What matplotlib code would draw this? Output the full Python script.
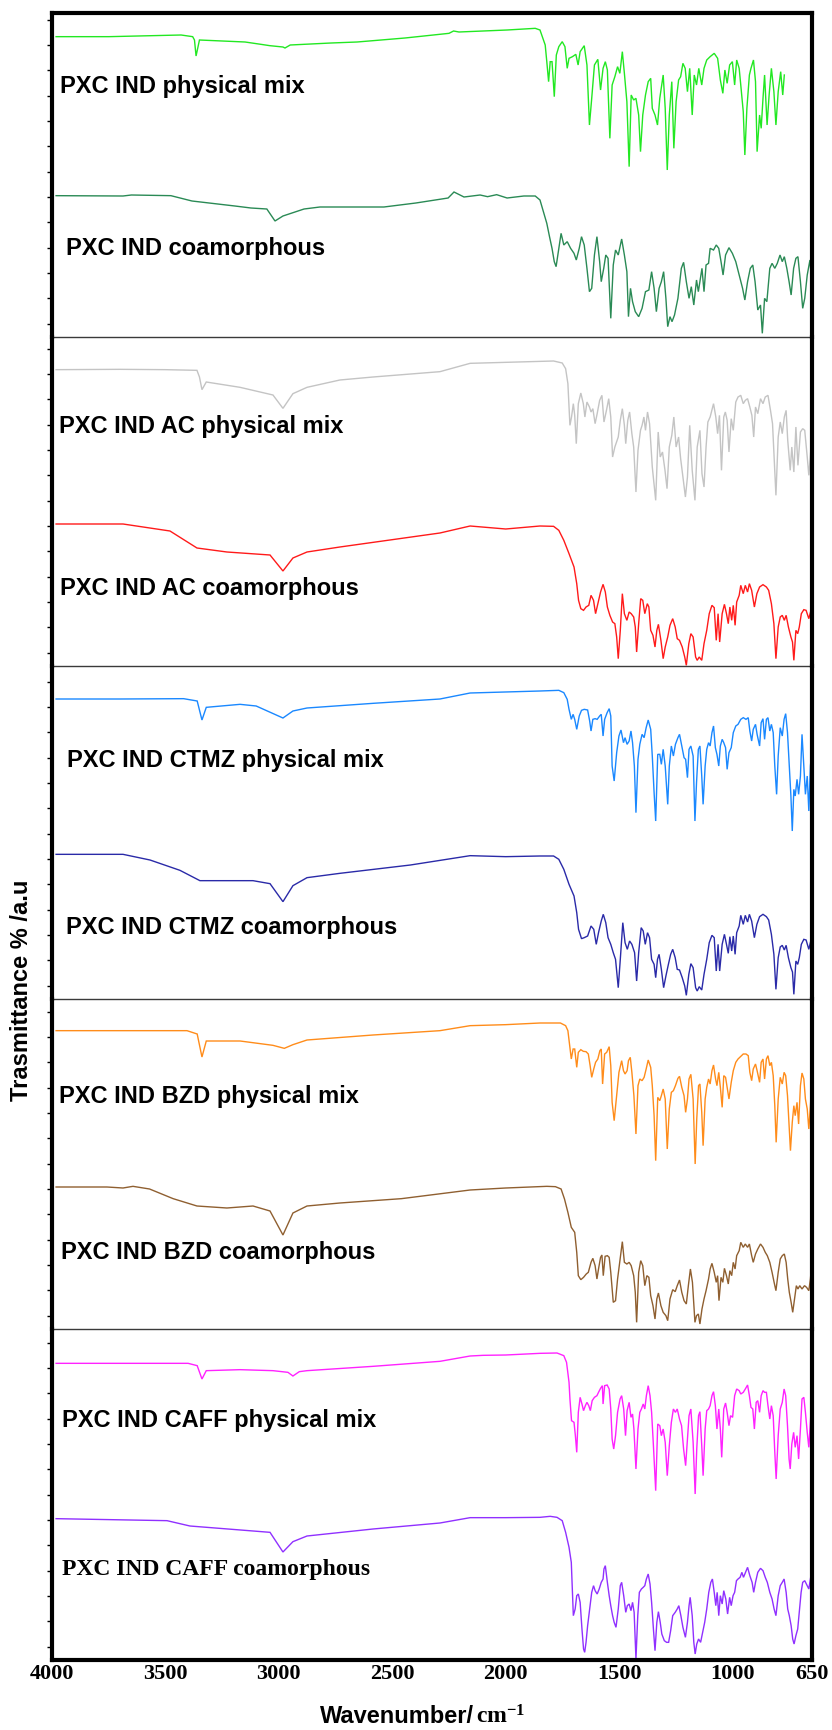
import matplotlib
matplotlib.use("Agg")
import matplotlib.pyplot as plt
import numpy as np

plt.rcParams['mathtext.fontset'] = 'custom'
plt.rcParams['mathtext.bf'] = 'Liberation Serif:bold'
plt.rcParams['mathtext.rm'] = 'Liberation Serif:bold'

# ---------------- data (wavenumber cm-1, transmittance a.u.) ----------------
x_ticks = [4000, 3500, 3000, 2500, 2000, 1500, 1000, 650]

labels = ["PXC IND physical mix", "PXC IND coamorphous",
          "PXC IND AC physical mix", "PXC IND AC coamorphous",
          "PXC IND CTMZ physical mix", "PXC IND CTMZ coamorphous",
          "PXC IND BZD physical mix", "PXC IND BZD coamorphous",
          "PXC IND CAFF physical mix", "PXC IND CAFF coamorphous"]

colors = ["#22e822", "#2a8a55", "#c4c4c4", "#ff1a1a", "#1a88ff",
          "#2a2aa8", "#ff8c1a", "#8f5f30", "#ff22ff", "#9030ff"]

pxc_ind_pm = [(3982,935),(3749,935),(3431,940),(3380,935),(3372,925),(3365,877),(3350,925),(3149,919),
    (3079,912),(3040,908),(2982,904),(2973,901),(2950,910),(2770,916),(2655,919),(2444,931),(2250,945),
    (2230,952),(2206,949),(1994,955),(1870,960),(1849,955),
    (1826,910),(1819,860),(1811,800),(1804,860),(1796,860),(1792,820),(1786,755),(1777,880),(1766,905),
    (1751,920),(1739,905),(1729,840),(1721,870),(1706,875),(1691,882),(1681,850),(1672,890),(1654,908),
    (1642,850),(1631,670),(1621,750),(1609,850),(1594,867),(1582,775),(1571,840),(1561,860),(1552,835),
    (1541,630),(1531,790),(1519,815),(1507,845),(1497,825),(1486,890),(1477,825),(1466,740),(1456,545),
    (1447,760),(1436,745),(1426,750),(1414,700),(1406,590),(1396,700),(1384,760),(1372,800),(1361,810),
    (1354,720),(1342,700),(1331,670),(1321,750),(1306,820),(1297,720),(1288,535),(1279,700),(1268,800),
    (1259,600),(1249,740),(1238,805),(1229,815),(1219,855),(1209,840),(1199,770),(1189,840),(1178,700),
    (1169,820),(1159,790),(1149,840),(1136,790),(1126,840),(1114,865),(1099,875),(1081,885),(1066,870),
    (1054,805),(1043,765),(1034,835),(1024,795),(1013,850),(1001,860),(991,790),(982,865),(971,840),
    (964,790),(953,710),(946,580),(937,720),(926,820),(919,840),(908,865),(899,800),(892,590),(881,700),
    (874,660),(866,750),(859,820),(848,670),(839,760),(829,840),(818,770),(809,670),(799,770),(788,830),
    (779,760),(772,820)]

pxc_ind_co = [(3982,458),(3687,457),(3650,460),(3476,458),(3383,442),(3194,427),(3123,421),(3053,418),
    (3017,382),(2982,397),(2889,418),(2819,424),(2537,424),(2396,436),(2254,451),(2228,469),(2184,454),
    (2113,460),(2080,455),(2040,461),(1994,451),(1920,457),(1870,457),(1849,445),
    (1834,410),(1819,375),(1807,335),(1796,300),(1786,260),(1778,245),(1766,300),(1756,345),(1744,310),
    (1729,320),(1714,300),(1699,285),(1689,265),(1676,300),(1666,335),(1654,310),(1642,240),(1631,170),
    (1621,180),(1609,280),(1598,335),(1586,260),(1579,200),(1568,240),(1559,280),(1549,270),(1537,90),
    (1526,250),(1516,295),(1504,280),(1489,328),(1477,280),(1466,230),(1459,95),(1450,180),(1441,140),
    (1429,110),(1414,95),(1399,120),(1384,170),(1369,175),(1357,230),(1346,180),(1336,110),(1324,180),
    (1314,200),(1304,230),(1294,150),(1286,65),(1276,95),(1267,80),(1256,100),(1241,150),(1226,240),
    (1216,258),(1204,200),(1192,150),(1182,185),(1171,130),(1159,205),(1151,170),(1144,200),(1135,240),
    (1126,170),(1117,250),(1106,255),(1099,300),(1084,295),(1072,310),(1061,300),(1051,260),(1042,220),
    (1031,280),(1016,302),(1001,285),(986,260),(971,220),(956,180),(946,145),(934,200),(922,240),
    (911,250),(901,200),(889,115),(877,130),(869,45),(859,150),(849,140),(836,240),(826,255),(814,240),
    (803,255),(791,280),(781,260),(772,275),(761,240),(751,200),(742,160),(731,240),(721,270),(712,275),
    (701,200),(691,120),(682,150),(671,220),(659,265),(650,190)]

ac_pm = [(3982,902),(3700,903),(3500,902),(3361,900),(3350,880),(3339,842),(3320,865),(3171,849),
    (3026,826),(2982,786),(2938,830),(2876,849),(2731,871),(2585,880),(2290,896),(2157,921),(2000,924),
    (1849,927),(1789,928),(1751,922),(1736,905),(1726,860),(1717,735),(1710,760),(1702,800),(1696,765),
    (1689,680),(1680,800),(1669,832),(1658,800),(1651,760),(1642,805),(1631,790),(1624,775),(1616,785),
    (1606,740),(1597,770),(1586,810),(1576,825),(1567,745),(1556,780),(1546,815),(1537,760),(1529,640),
    (1519,670),(1504,700),(1495,750),(1486,785),(1477,735),(1471,680),(1462,750),(1454,775),(1444,710),
    (1436,670),(1426,535),(1417,660),(1406,720),(1399,735),(1391,760),(1384,720),(1375,775),(1366,740),
    (1354,610),(1339,510),(1328,715),(1319,640),(1309,655),(1298,600),(1289,545),(1279,670),(1268,705),
    (1259,760),(1249,670),(1238,700),(1229,635),(1219,580),(1208,520),(1199,580),(1189,735),(1178,600),
    (1166,510),(1156,670),(1144,720),(1135,590),(1126,550),(1117,670),(1109,745),(1099,760),(1084,800),
    (1074,760),(1066,710),(1058,765),(1049,600),(1039,760),(1032,775),(1024,750),(1016,655),(1006,755),
    (997,720),(986,805),(976,820),(964,825),(953,800),(944,810),(934,815),(924,790),(915,765),(907,700),
    (899,790),(889,770),(877,815),(866,800),(856,820),(844,825),(833,780),(824,740),(817,640),(809,525),
    (799,700),(790,745),(781,710),(772,760),(764,780),(757,690),(746,600),(739,670),(730,595),(721,730),
    (712,615),(701,715),(691,725),(682,720),(671,640),(664,585),(653,680),(650,700)]

ac_co = [(3982,439),(3687,439),(3480,418),(3361,367),(3229,355),(3039,346),(2982,298),(2938,337),
    (2876,355),(2731,370),(2510,391),(2290,412),(2157,433),(2000,424),(1849,433),
    (1789,432),(1766,420),(1744,390),(1721,350),(1699,310),(1687,260),(1679,210),(1669,185),(1657,180),
    (1646,190),(1634,195),(1624,225),(1613,210),(1604,170),(1594,200),(1582,235),(1571,258),(1561,235),
    (1552,190),(1541,165),(1529,145),(1519,140),(1511,100),(1504,35),(1495,120),(1486,230),(1477,170),
    (1466,150),(1456,175),(1447,170),(1436,160),(1429,130),(1423,55),(1414,140),(1405,215),(1396,210),
    (1387,170),(1376,200),(1369,190),(1361,120),(1351,105),(1342,70),(1334,120),(1327,138),(1316,90),
    (1306,35),(1297,70),(1286,100),(1276,135),(1264,155),(1253,130),(1244,95),(1234,90),(1222,70),
    (1211,40),(1204,15),(1193,80),(1184,110),(1174,100),(1163,40),(1156,30),(1147,40),(1136,30),
    (1126,80),(1114,120),(1103,170),(1091,195),(1081,188),(1072,90),(1064,170),(1057,85),(1046,170),
    (1036,198),(1027,170),(1019,140),(1012,190),(1004,150),(997,195),(989,135),(982,205),(971,225),
    (964,255),(953,230),(944,255),(934,235),(926,260),(916,240),(904,190),(893,230),(881,250),(866,257),
    (851,250),(841,240),(829,200),(818,140),(809,35),(799,130),(790,160),(781,165),(772,150),(764,165),
    (754,130),(743,100),(736,85),(730,30),(721,120),(713,110),(706,130),(697,170),(686,182),(676,180),
    (664,155),(653,185),(650,192)]

ctmz_pm = [(3982,901),(3700,901),(3420,902),(3360,895),(3339,838),(3320,876),(3171,885),(3100,880),
    (2982,844),(2938,865),(2876,874),(2585,888),(2290,901),(2157,919),(2000,922),(1849,925),
    (1766,927),(1744,920),(1729,900),(1721,870),(1711,840),(1703,855),(1696,840),(1687,810),(1676,850),
    (1666,867),(1654,870),(1639,868),(1630,835),(1624,805),(1616,840),(1606,842),(1597,840),(1586,850),
    (1579,855),(1571,790),(1564,840),(1553,860),(1544,872),(1537,850),(1531,700),(1522,655),(1511,740),
    (1501,790),(1492,808),(1481,770),(1474,785),(1465,765),(1456,775),(1448,805),(1441,770),(1433,700),
    (1426,560),(1417,720),(1409,765),(1399,795),(1390,785),(1381,815),(1372,838),(1361,810),(1354,730),
    (1346,620),(1339,535),(1330,735),(1321,735),(1314,705),(1306,750),(1297,700),(1286,585),(1279,700),
    (1270,760),(1261,730),(1252,765),(1241,785),(1234,795),(1224,760),(1214,725),(1207,720),(1199,665),
    (1192,750),(1184,760),(1174,730),(1166,535),(1159,650),(1151,750),(1144,760),(1136,670),(1130,585),
    (1121,700),(1114,750),(1106,770),(1099,760),(1091,800),(1084,820),(1076,755),(1069,735),(1061,700),
    (1054,760),(1046,780),(1039,770),(1031,755),(1024,690),(1016,740),(1006,755),(997,800),(986,820),
    (976,825),(964,840),(953,845),(941,840),(931,845),(924,805),(916,775),(909,810),(899,825),(892,795),
    (881,760),(874,830),(866,842),(859,780),(851,840),(844,845),(836,805),(829,825),(821,800),(814,700),
    (806,615),(799,730),(790,815),(781,790),(773,840),(766,857),(758,800),(751,710),(743,610),(737,505),
    (730,630),(724,610),(716,660),(709,615),(701,670),(694,795),(686,700),(679,615),(671,670),(664,565),
    (657,700),(650,750)]

ctmz_co = [(3982,435),(3687,435),(3568,418),(3436,387),(3348,356),(3114,356),(3039,347),(2982,293),
    (2938,341),(2876,365),(2731,378),(2420,403),(2157,431),(2000,428),(1849,430),
    (1789,430),(1766,420),(1744,390),(1721,345),(1699,310),(1687,260),(1679,210),(1666,182),(1654,185),
    (1639,190),(1624,220),(1612,210),(1601,165),(1591,200),(1579,235),(1570,255),(1559,230),(1549,185),
    (1537,165),(1526,140),(1516,120),(1504,35),(1495,120),(1484,230),(1474,170),(1464,150),(1454,175),
    (1444,165),(1432,140),(1423,55),(1414,140),(1403,215),(1394,205),(1385,165),(1375,200),(1366,185),
    (1357,120),(1346,105),(1339,65),(1331,120),(1324,135),(1314,90),(1304,35),(1294,70),(1283,105),
    (1273,135),(1264,150),(1253,125),(1244,90),(1234,88),(1222,65),(1211,40),(1204,12),(1193,75),
    (1184,107),(1174,95),(1163,35),(1156,25),(1147,38),(1136,28),(1126,75),(1114,120),(1103,170),
    (1091,192),(1081,185),(1072,85),(1064,165),(1057,85),(1046,165),(1036,195),(1027,165),(1019,138),
    (1012,188),(1004,145),(997,190),(989,135),(982,200),(971,220),(964,252),(953,225),(944,252),
    (934,232),(926,255),(916,235),(904,185),(893,225),(881,248),(866,255),(851,248),(841,238),(829,195),
    (818,135),(809,30),(799,125),(790,157),(781,162),(772,148),(764,162),(754,125),(743,95),(736,82),
    (730,15),(721,115),(713,105),(706,125),(697,165),(686,180),(676,178),(664,150),(653,182),(650,190)]

bzd_pm = [(3982,905),(3405,905),(3360,895),(3339,826),(3320,874),(3171,874),(3026,861),(2976,852),
    (2938,863),(2876,877),(2585,892),(2290,905),(2157,920),(2000,923),(1849,928),
    (1759,928),(1736,920),(1726,905),(1718,860),(1711,820),(1703,850),(1696,850),(1687,795),(1680,840),
    (1669,848),(1658,843),(1646,842),(1636,835),(1628,800),(1621,765),(1612,790),(1604,810),(1594,820),
    (1585,845),(1579,850),(1573,745),(1564,835),(1555,840),(1544,857),(1537,800),(1531,690),(1522,635),
    (1511,710),(1501,780),(1489,815),(1481,785),(1474,775),(1465,785),(1459,815),(1451,825),(1444,780),
    (1435,710),(1426,595),(1417,740),(1409,760),(1399,755),(1390,765),(1381,790),(1372,817),(1361,795),
    (1354,740),(1346,650),(1339,515),(1330,705),(1321,695),(1314,710),(1306,730),(1297,700),(1288,550),
    (1279,670),(1270,720),(1261,725),(1252,740),(1241,762),(1234,768),(1224,735),(1214,710),(1207,660),
    (1199,700),(1192,760),(1184,774),(1174,700),(1165,505),(1158,640),(1150,740),(1144,745),(1136,660),
    (1130,560),(1121,700),(1114,735),(1106,760),(1099,745),(1091,785),(1084,802),(1075,760),(1069,740),
    (1061,780),(1054,735),(1046,675),(1039,770),(1031,765),(1024,735),(1016,700),(1006,750),(997,785),
    (986,810),(976,820),(964,828),(953,835),(941,835),(931,830),(924,780),(916,755),(909,790),(899,805),
    (892,785),(881,750),(874,810),(866,820),(859,760),(851,820),(844,830),(836,800),(829,810),(821,770),
    (814,680),(808,570),(799,700),(790,765),(781,745),(773,780),(766,770),(758,710),(751,620),(745,545),
    (737,630),(730,680),(724,650),(716,690),(709,625),(701,740),(694,778),(686,760),(679,700),(671,670),
    (664,610),(657,680),(650,750)]

bzd_co = [(3982,436),(3758,436),(3687,433),(3643,438),(3570,430),(3466,401),(3361,379),(3229,373),
    (3114,379),(3039,364),(2982,292),(2938,358),(2876,379),(2731,388),(2460,401),(2157,427),(2000,433),
    (1849,437),(1819,438),(1781,437),(1756,430),(1741,400),(1726,360),(1711,315),(1696,300),(1687,240),
    (1680,170),(1669,158),(1657,165),(1645,175),(1636,180),(1624,210),(1616,222),(1606,200),(1598,160),
    (1591,190),(1582,225),(1576,232),(1570,170),(1562,228),(1552,230),(1544,225),(1537,180),(1526,90),
    (1516,95),(1507,160),(1496,220),(1486,272),(1477,210),(1466,205),(1456,210),(1447,200),(1436,170),
    (1429,120),(1423,30),(1414,180),(1405,215),(1396,200),(1387,140),(1378,170),(1369,165),(1361,110),
    (1351,80),(1342,40),(1334,100),(1327,118),(1316,80),(1306,60),(1294,50),(1286,35),(1276,100),
    (1264,128),(1253,122),(1244,140),(1234,157),(1224,120),(1214,95),(1204,85),(1195,140),(1186,190),
    (1177,150),(1166,30),(1159,50),(1151,55),(1144,25),(1135,70),(1126,100),(1117,125),(1106,160),
    (1099,190),(1091,207),(1081,180),(1072,150),(1066,170),(1060,95),(1051,165),(1043,150),(1036,192),
    (1027,170),(1019,145),(1012,185),(1004,170),(997,210),(989,190),(982,230),(971,245),(964,270),
    (953,255),(944,265),(934,255),(926,265),(916,230),(909,210),(899,235),(889,250),(877,265),(866,255),
    (856,240),(847,230),(836,210),(826,180),(817,150),(809,125),(799,180),(790,220),(781,230),(772,235),
    (764,210),(757,160),(750,120),(742,90),(735,60),(727,100),(719,140),(712,130),(704,140),(694,130),
    (683,140),(674,135),(664,125),(657,160),(650,215)]

caff_pm = [(3982,897),(3400,897),(3360,890),(3339,850),(3320,875),(3171,878),(3026,875),(2960,870),
    (2938,859),(2910,872),(2876,875),(2585,888),(2290,903),(2157,919),(2100,921),(2000,922),(1849,927),
    (1774,928),(1744,920),(1732,900),(1721,840),(1717,790),(1710,725),(1699,720),(1693,680),(1687,630),
    (1680,750),(1672,795),(1664,775),(1657,755),(1649,770),(1642,780),(1634,770),(1627,755),(1619,785),
    (1609,795),(1598,800),(1591,810),(1582,822),(1574,830),(1571,775),(1564,830),(1553,832),(1544,820),
    (1537,760),(1531,670),(1524,640),(1516,680),(1507,750),(1496,790),(1489,800),(1480,760),(1472,680),
    (1465,755),(1456,780),(1448,735),(1441,745),(1435,700),(1426,580),(1417,700),(1409,750),(1402,760),
    (1394,775),(1387,760),(1380,800),(1372,830),(1364,800),(1357,750),(1349,650),(1339,515),(1330,715),
    (1321,710),(1314,680),(1306,700),(1297,660),(1288,560),(1279,650),(1270,720),(1261,760),(1252,750),
    (1244,760),(1234,730),(1225,710),(1216,640),(1207,590),(1199,670),(1192,740),(1184,760),(1174,660),
    (1165,505),(1158,640),(1150,740),(1144,752),(1136,650),(1130,560),(1121,700),(1114,755),(1106,760),
    (1099,770),(1091,800),(1084,812),(1076,770),(1069,700),(1061,760),(1054,700),(1048,615),(1039,760),
    (1031,778),(1024,750),(1016,710),(1009,740),(1000,735),(991,800),(982,820),(971,815),(964,805),
    (953,810),(944,820),(934,832),(926,800),(919,765),(911,760),(904,700),(896,780),(889,785),(881,750),
    (874,800),(866,815),(859,810),(851,810),(844,770),(836,730),(829,770),(821,740),(814,630),(808,550),
    (799,680),(790,760),(781,780),(773,820),(766,800),(758,710),(751,610),(746,580),(739,655),(731,690),
    (724,645),(716,680),(709,610),(701,700),(694,790),(686,795),(679,750),(671,690),(664,645),(657,720),
    (650,800)]

caff_co = [(3982,431),(3493,425),(3392,409),(3114,394),(3039,390),(2982,331),(2938,362),(2876,379),
    (2585,400),(2290,418),(2157,434),(2000,434),(1849,435),
    (1804,438),(1774,435),(1751,425),(1736,390),(1721,345),(1711,300),(1706,210),(1702,140),(1694,160),
    (1687,200),(1680,205),(1672,180),(1664,100),(1657,40),(1652,30),(1646,60),(1639,110),(1628,170),
    (1621,210),(1613,230),(1606,215),(1597,205),(1588,220),(1579,240),(1571,250),(1567,280),(1561,290),
    (1552,240),(1544,200),(1537,170),(1529,140),(1522,120),(1514,105),(1504,160),(1495,230),(1489,240),
    (1480,200),(1471,150),(1464,170),(1456,175),(1448,155),(1441,180),(1434,150),(1426,10),(1418,140),
    (1411,210),(1402,220),(1394,225),(1387,230),(1380,250),(1372,265),(1364,235),(1357,180),(1349,100),
    (1342,35),(1334,120),(1327,152),(1319,120),(1312,85),(1301,65),(1291,60),(1282,60),(1273,95),
    (1264,140),(1253,150),(1244,160),(1237,170),(1228,140),(1219,105),(1208,75),(1199,120),(1192,170),
    (1187,195),(1178,140),(1171,60),(1165,25),(1158,55),(1150,70),(1141,60),(1132,90),(1123,120),
    (1114,160),(1105,210),(1096,240),(1089,250),(1081,210),(1074,170),(1068,210),(1061,140),(1054,200),
    (1046,175),(1039,215),(1030,190),(1022,145),(1013,195),(1006,170),(998,200),(991,210),(983,245),
    (976,250),(967,255),(959,270),(952,255),(943,270),(934,285),(924,260),(914,240),(907,210),(899,240),
    (889,270),(877,282),(866,275),(856,255),(847,240),(836,210),(826,190),(817,160),(809,140),(799,200),
    (790,230),(781,240),(773,250),(764,210),(757,160),(750,140),(742,110),(735,70),(729,55),(721,80),
    (713,100),(706,150),(698,210),(691,240),(682,245),(671,230),(664,220),(657,250),(650,280)]

spectra = [pxc_ind_pm, pxc_ind_co, ac_pm, ac_co, ctmz_pm, ctmz_co, bzd_pm, bzd_co, caff_pm, caff_co]

# ---------------- layout ----------------
W, H = 832, 1730
fig = plt.figure(figsize=(W / 100, H / 100), dpi=100)
panel_px = [324, 329, 333, 330, 331]
panel_ylim = [(34, 1006), (13, 1000), (1, 1000), (10, 1000), (7, 1000)]
gs = fig.add_gridspec(5, 1, left=52 / W, right=812 / W, bottom=1 - 1660 / H, top=1 - 13 / H,
                      hspace=0, height_ratios=panel_px)

axes = []
for p in range(5):
    ax = fig.add_subplot(gs[p, 0])
    ax.patch.set_visible(False)
    axes.append(ax)
    for k in (2 * p, 2 * p + 1):
        arr = np.array(spectra[k], dtype=float)
        ax.plot(arr[:, 0], arr[:, 1], color=colors[k], lw=1.0, solid_joinstyle='miter')
    ax.set_xlim(4000, 650)
    lo, hi = panel_ylim[p]
    ax.set_ylim(lo, hi)
    ax.set_yticks(np.arange(lo + 40, hi, 76))
    ax.set_yticklabels([])
    ax.tick_params(axis='y', direction='out', length=3.5, width=1.0, left=True, right=False)
    for s in ('left', 'right'):
        ax.spines[s].set_linewidth(3.0)
        ax.spines[s].set_color('black')
        ax.spines[s].set_zorder(5)
    ax.spines['top'].set_visible(p == 0)
    ax.spines['top'].set_linewidth(3.0)
    if p < 4:
        ax.spines['bottom'].set_linewidth(1.0)
        ax.spines['bottom'].set_color('#3a3a3a')
        ax.spines['bottom'].set_zorder(4)
        ax.set_xticks([])
    else:
        ax.spines['bottom'].set_linewidth(3.0)
        ax.set_xticks(x_ticks)
        ax.set_xticklabels([str(t) for t in x_ticks], fontfamily='Liberation Serif',
                           fontweight='bold', fontsize=16)
        ax.tick_params(axis='x', length=0, pad=3)

# sample labels
lab_x = [60, 66, 59, 60, 67, 66, 59, 61, 62, 62]
lab_y = [86, 248, 427, 589, 761, 927, 1097, 1253, 1420, 1569]
for k, txt in enumerate(labels):
    fam = 'Liberation Serif' if k == 9 else 'Liberation Sans'
    fig.text(lab_x[k] / W, 1 - lab_y[k] / H, txt, ha='left', va='center',
             fontfamily=fam, fontweight='bold', fontsize=17)

# axis labels
fig.text(22 / W, 1 - 990 / H, 'Trasmittance % /a.u', rotation=90, ha='center', va='center',
         fontfamily='Liberation Sans', fontweight='bold', fontsize=17)
fig.text(474 / W, 1 - 1723 / H, 'Wavenumber/', ha='right', va='baseline',
         fontfamily='Liberation Sans', fontweight='bold', fontsize=17)
fig.text(476 / W, 1 - 1723 / H, r'$\mathbf{cm^{-1}}$', ha='left', va='baseline', fontsize=17)

fig.savefig('out.png', dpi=100)
